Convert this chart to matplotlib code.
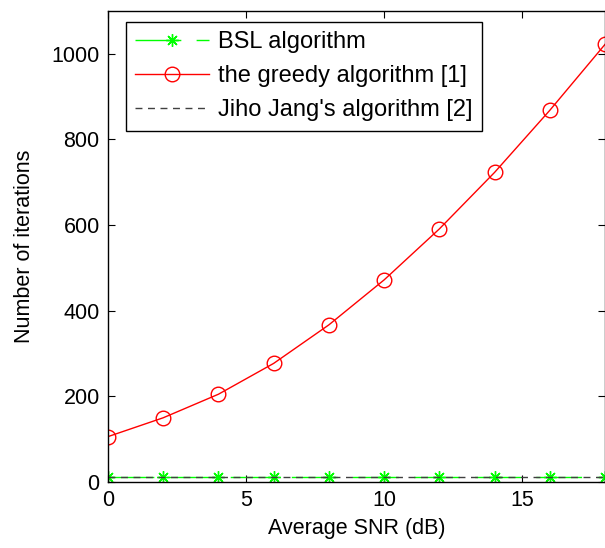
import numpy as np
import matplotlib
matplotlib.use("Agg")
import matplotlib.pyplot as plt

plt.rcParams['font.family'] = ['Liberation Sans', 'DejaVu Sans']

# data
snr = [0, 2, 4, 6, 8, 10, 12, 14, 16, 18]
bsl_iter = [12, 12, 12, 12, 12, 12, 12, 12, 12, 12]
greedy_iter = [106, 150, 205, 277, 367, 472, 591, 723, 868, 1022]
jang_iter = [12, 12, 12, 12, 12, 12, 12, 12, 12, 12]

xticks = [0, 5, 10, 15]
yticks = [0, 200, 400, 600, 800, 1000]

fig = plt.figure(figsize=(6.05, 5.48), dpi=100)
ax = fig.add_axes([108/605, 1 - 482/548, 497/605, 471/548])

ax.plot(snr, bsl_iter, color='#00ff00', lw=1, linestyle=(0, (33, 11)),
        marker=(8, 2, 0), markersize=9, markeredgewidth=1,
        label='BSL algorithm')
ax.plot(snr, greedy_iter, color='red', lw=1, marker='o', markersize=10.5,
        markerfacecolor='none', markeredgewidth=1,
        label='the greedy algorithm [1]')
ax.plot(snr, jang_iter, color='#404040', lw=1, linestyle=(0, (5, 4)),
        label="Jiho Jang's algorithm [2]")

ax.set_xlim(0, 18)
ax.set_ylim(0, 1100)
ax.set_xticks(xticks)
ax.set_yticks(yticks)
ax.tick_params(direction='in', top=True, right=True, labelsize=15.5, length=5, pad=6)
for s in ax.spines.values():
    s.set_linewidth(1)

ax.set_xlabel('Average SNR (dB)', fontsize=15.5, labelpad=5)
ax.set_ylabel('Number of iterations', fontsize=15.5, labelpad=12)

leg = ax.legend(loc='upper left', bbox_to_anchor=(18/497, 1 - 11/471),
                borderaxespad=0, fontsize=17, fancybox=False, framealpha=1,
                edgecolor='black', handlelength=3.1, handletextpad=0.4,
                labelspacing=0.5, borderpad=0.4)
leg.get_frame().set_linewidth(1)

fig.savefig('out.png', dpi=100)
